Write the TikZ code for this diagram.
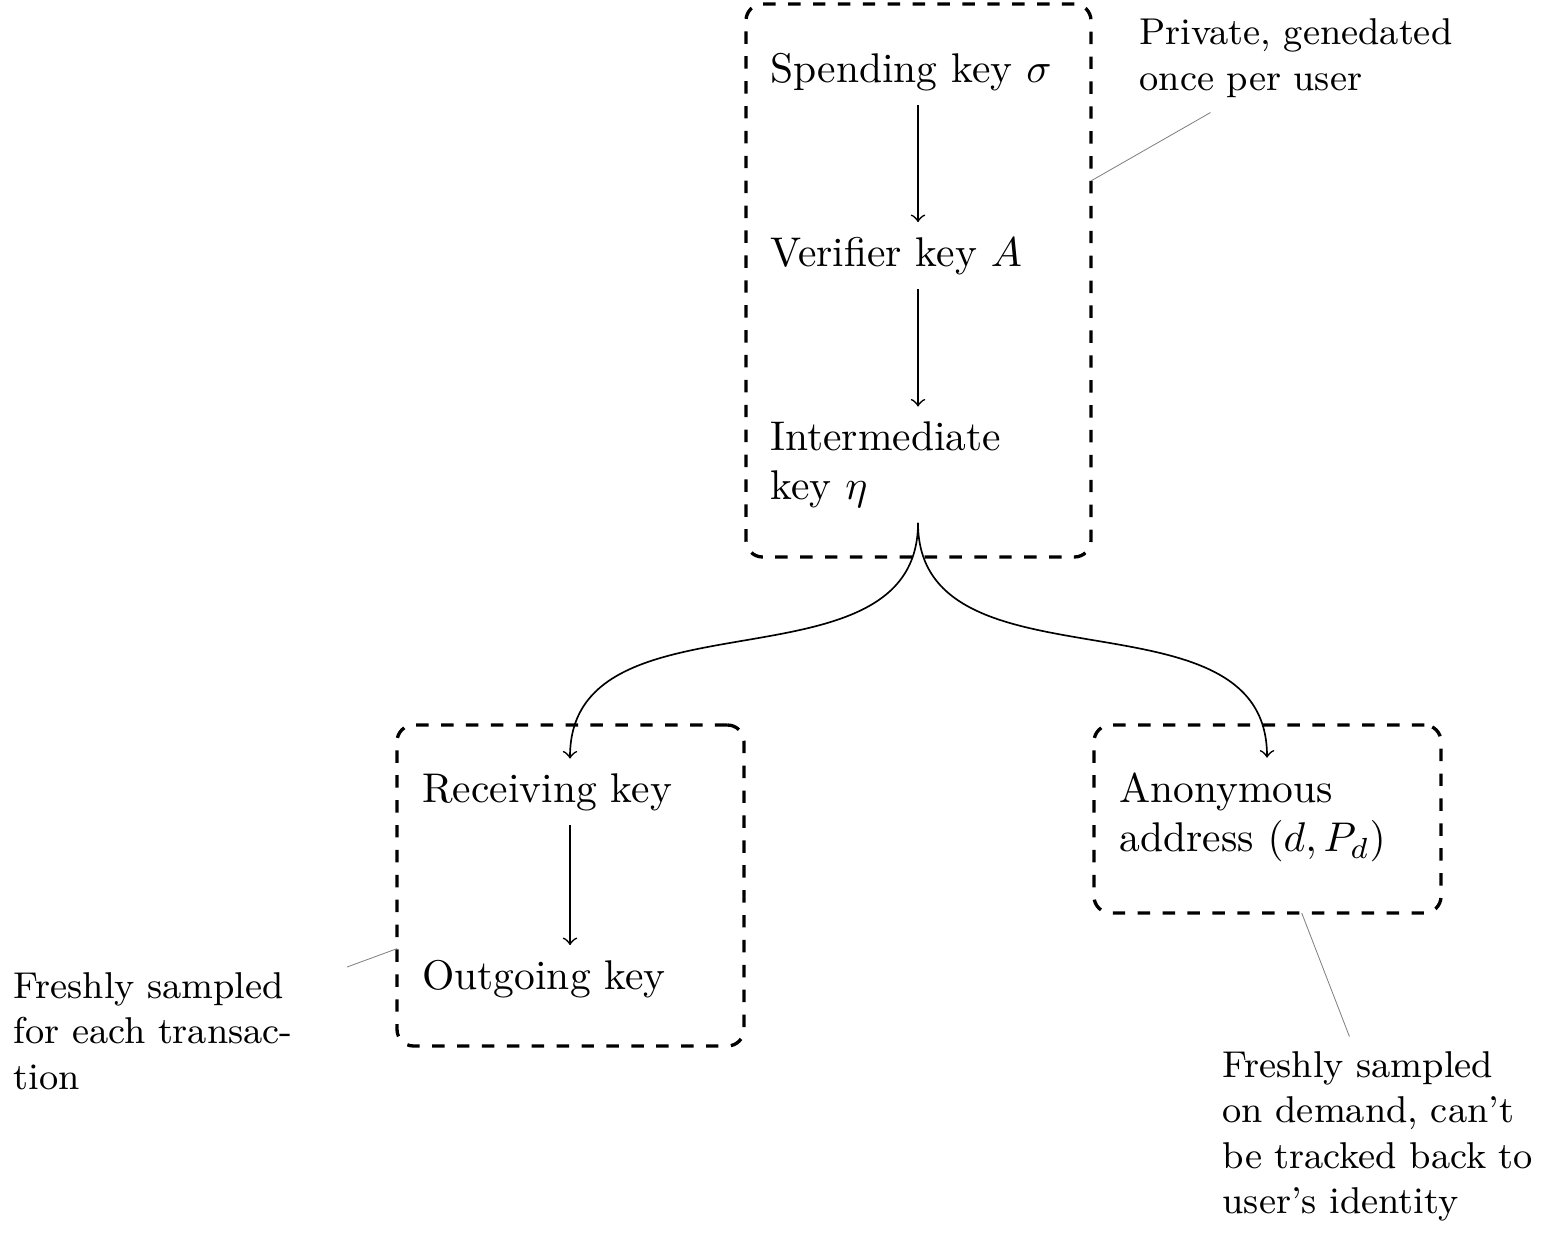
\documentclass[tikz,border=0pt]{standalone}
\newdimen\pxu
\pxu=0.241pt
\tikzset{
  keynode/.style={text width=2.5cm, align=left, inner sep=3.33pt, anchor=base},
  groupbox/.style={draw, thick, dashed, rounded corners=4pt, inner sep=0pt, outer sep=0pt},
  note/.style={font=\small, text width=2.8cm, align=left, inner sep=3.33pt, anchor=base west},
  noteline/.style={draw=gray, line width=0.2pt},
  arr/.style={->},
}
\begin{document}
\begin{tikzpicture}[x=0.241pt,y=-0.241pt]
\useasboundingbox (0,0) rectangle (1556,1237);
% group boxes
\node[groupbox, minimum width=345*\pxu, minimum height=553*\pxu] (g1) at (918.5,280.5) {};
\node[groupbox, minimum width=347*\pxu, minimum height=321*\pxu] (g2) at (570.5,885.5) {};
\node[groupbox, minimum width=347*\pxu, minimum height=188*\pxu] (g3) at (1267.5,819) {};
% key nodes
\node[keynode] (spend) at (918,82) {Spending key $\sigma$};
\node[keynode] (verif) at (918,266) {Verifier key $A$};
\node[keynode] (inter) at (918,450) {Intermediate\\key $\eta$};
\node[keynode] (recv) at (570,802) {Receiving key};
\node[keynode] (outg) at (570,989) {Outgoing key};
\node[keynode] (anon) at (1267,802) {Anonymous\\address $(d, P_d)$};
% arrows
\draw[arr] (spend.south) -- (verif.north);
\draw[arr] (verif.south) -- (inter.north);
\draw[arr] (recv.south) -- (outg.north);
\draw[arr] (inter.south) .. controls +(0,175) and +(0,-175) .. (recv.north);
\draw[arr] (inter.south) .. controls +(0,175) and +(0,-175) .. (anon.north);
% notes
\node[note] (n1) at (1125,45) {Private, genedated\\once per user};
\node[note, text width=2.7cm] (n2) at (-1,998) {Freshly sampled\\for each transac-\\tion};
\node[note] (n3) at (1208,1077) {Freshly sampled\\on demand, can't\\be tracked back to\\user's identity};
\draw[noteline] (g1.30) -- (n1);
\draw[noteline] (g2.200) -- (n2);
\draw[noteline] (g3.290) -- (n3);
\end{tikzpicture}
\end{document}
